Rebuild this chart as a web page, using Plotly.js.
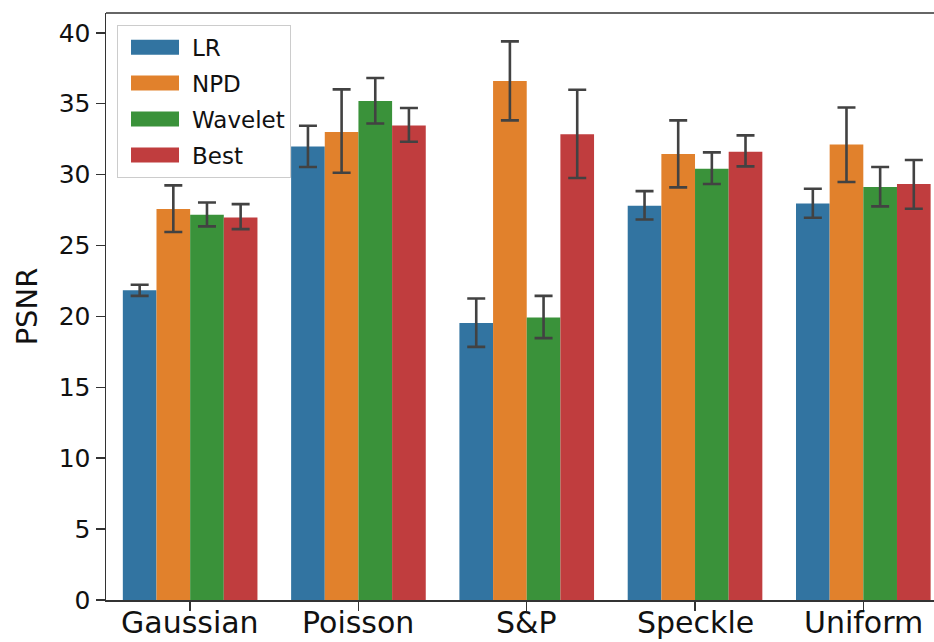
<!DOCTYPE html>
<html>
<head>
<meta charset="utf-8">
<script src="https://cdn.plot.ly/plotly-3.0.1.min.js"></script>
<style>html,body{margin:0;padding:0;background:#fff;}#chart{width:934px;height:642px;}</style>
</head>
<body>
<div id="chart"></div>
<script>
const categories = ["Gaussian", "Poisson", "S&P", "Speckle", "Uniform"];
const seriesNames = ["LR", "NPD", "Wavelet", "Best"];
const seriesColors = ["#3274a1", "#e1812c", "#3a923a", "#c03d3e"];

const lrMean      = [21.85, 31.99, 19.53, 27.80, 27.97];
const lrUpper     = [22.23, 33.45, 21.26, 28.84, 29.00];
const lrLower     = [21.45, 30.54, 17.85, 26.84, 26.96];

const npdMean     = [27.57, 33.00, 36.60, 31.45, 32.13];
const npdUpper    = [29.24, 36.01, 39.40, 33.83, 34.74];
const npdLower    = [25.95, 30.13, 33.83, 29.10, 29.48];

const waveletMean = [27.17, 35.19, 19.92, 30.42, 29.12];
const waveletUpper= [28.04, 36.82, 21.45, 31.57, 30.54];
const waveletLower= [26.35, 33.61, 18.47, 29.34, 27.76];

const bestMean    = [26.98, 33.47, 32.84, 31.62, 29.34];
const bestUpper   = [27.92, 34.70, 35.99, 32.77, 31.03];
const bestLower   = [26.16, 32.32, 29.76, 30.58, 27.59];

const yTicks = [0, 5, 10, 15, 20, 25, 30, 35, 40];

const means = [lrMean, npdMean, waveletMean, bestMean];
const uppers = [lrUpper, npdUpper, waveletUpper, bestUpper];
const lowers = [lrLower, npdLower, waveletLower, bestLower];

const FONT = "DejaVu Sans, Liberation Sans, sans-serif";

const traces = seriesNames.map((name, i) => ({
  type: "bar",
  name: name,
  x: categories,
  y: means[i],
  legendgroup: name,
  marker: {color: seriesColors[i], line: {width: 0}},
  error_y: {
    type: "data",
    symmetric: false,
    array: uppers[i].map((u, k) => u - means[i][k]),
    arrayminus: lowers[i].map((l, k) => means[i][k] - l),
    color: "#424242",
    thickness: 2.6,
    width: 9
  }
}));

const xLabelAnnotations = categories.map(c => ({
  x: c, xref: "x", y: 0, yref: "paper",
  text: c.replace("&", "&amp;"),
  showarrow: false,
  xanchor: "center", yanchor: "top",
  yshift: -3,
  font: {size: 30, family: FONT, color: "#111111"}
}));

const layout = {
  width: 934,
  height: 642,
  margin: {l: 106, r: 0, t: 13, b: 42},
  paper_bgcolor: "#ffffff",
  plot_bgcolor: "#ffffff",
  barmode: "group",
  bargap: 0.2,
  bargroupgap: 0,
  font: {family: FONT, color: "#111111"},
  xaxis: {
    type: "category",
    range: [-0.5, 4.42],
    showline: true,
    linecolor: "#333333",
    linewidth: 1.5,
    ticks: "outside",
    ticklen: 9,
    tickwidth: 1.5,
    tickcolor: "#333333",
    showticklabels: false,
    showgrid: false,
    zeroline: false
  },
  yaxis: {
    range: [0, 41.4],
    tickvals: yTicks,
    ticktext: yTicks.map(String),
    showline: true,
    linecolor: "#333333",
    linewidth: 1.5,
    ticks: "outside",
    ticklen: 9,
    tickwidth: 1.5,
    tickcolor: "#333333",
    tickfont: {size: 25, family: FONT, color: "#111111"},
    showgrid: false,
    zeroline: false,
    title: {text: "PSNR", font: {size: 29, family: FONT, color: "#111111"}, standoff: 12}
  },
  annotations: xLabelAnnotations,
  shapes: [{
    type: "line", xref: "paper", yref: "paper",
    x0: 0, x1: 1, y0: 1, y1: 1,
    line: {color: "#333333", width: 1.5}
  }],
  legend: {
    x: 0.0133, y: 0.98, xanchor: "left", yanchor: "top",
    bgcolor: "rgba(255,255,255,0.8)",
    bordercolor: "#cccccc",
    borderwidth: 1,
    font: {size: 23, family: FONT, color: "#111111"},
    itemwidth: 64,
    traceorder: "grouped",
    tracegroupgap: 3
  },
  showlegend: true
};

Plotly.newPlot("chart", traces, layout, {displayModeBar: false, staticPlot: true}).then(gd => {
  const fix = () => {
    gd.querySelectorAll(".legend .legendpoints path").forEach(p => {
      p.setAttribute("d", "M24,7.5H-24V-7.5H24Z");
    });
  };
  fix();
  gd.on && gd.on("plotly_afterplot", fix);
});
</script>
</body>
</html>
